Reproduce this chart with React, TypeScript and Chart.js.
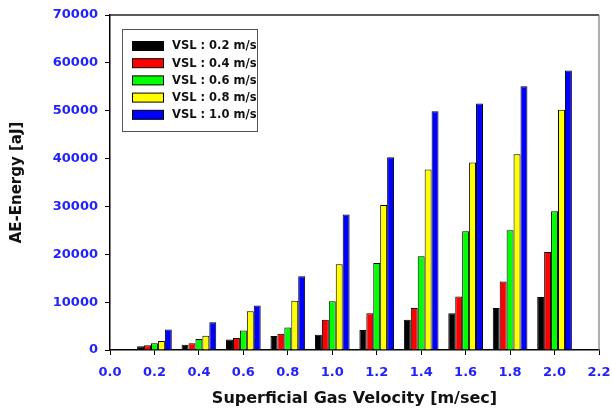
import React, { useEffect, useRef } from "react";
import { Chart, registerables } from "chart.js";

Chart.register(...registerables);

const velocities = [0.2, 0.4, 0.6, 0.8, 1.0, 1.2, 1.4, 1.6, 1.8, 2.0];
const seriesLabels = ["VSL : 0.2 m/s", "VSL : 0.4 m/s", "VSL : 0.6 m/s", "VSL : 0.8 m/s", "VSL : 1.0 m/s"];
const seriesColors = ["#000000", "#ff0000", "#00ff00", "#ffff00", "#0000ff"];
const vsl02 = [800, 1100, 2200, 2900, 3200, 4200, 6300, 7700, 8800, 11100];
const vsl04 = [1000, 1400, 2500, 3400, 6300, 7700, 8800, 11200, 14300, 20500];
const vsl06 = [1400, 2300, 4100, 4700, 10200, 18200, 19600, 24800, 25000, 29000];
const vsl08 = [1900, 3000, 8100, 10300, 17900, 30300, 37700, 39200, 40900, 50200];
const vsl10 = [4300, 5800, 9300, 15400, 28300, 40300, 49900, 51500, 55100, 58400];
const seriesValues = [vsl02, vsl04, vsl06, vsl08, vsl10];

const xTitle = "Superficial Gas Velocity [m/sec]";
const yTitle = "AE-Energy [aJ]";
const tickBlue = "#2222ff";
const FONT = "'DejaVu Sans', sans-serif";

const framePlugin = {
  id: "frameAndLegend",
  afterDraw(chart: any) {
    const { ctx, chartArea } = chart;
    const { left, right, top, bottom } = chartArea;
    ctx.save();
    ctx.strokeStyle = "#222222";
    ctx.lineWidth = 1.5;
    ctx.beginPath();
    ctx.moveTo(left, top);
    ctx.lineTo(right, top);
    ctx.stroke();
    ctx.strokeStyle = "#777777";
    ctx.lineWidth = 1.2;
    ctx.beginPath();
    ctx.moveTo(right, top);
    ctx.lineTo(right, bottom);
    ctx.stroke();

    const bx = left + 12;
    const by = top + 14;
    const bw = 135;
    const bh = 102;
    ctx.strokeStyle = "#555555";
    ctx.lineWidth = 1;
    ctx.strokeRect(bx + 0.5, by + 0.5, bw, bh);
    ctx.font = "bold 11.5px " + FONT;
    ctx.textBaseline = "middle";
    ctx.textAlign = "left";
    chart.data.datasets.forEach((ds: any, i: number) => {
      const cy = by + 17 + i * 17.2;
      ctx.fillStyle = ds.backgroundColor;
      ctx.fillRect(bx + 10, cy - 4.5, 32, 9);
      ctx.strokeStyle = "#000000";
      ctx.lineWidth = 1;
      ctx.strokeRect(bx + 10.5, cy - 4.5, 31, 9);
      ctx.fillStyle = "#111111";
      ctx.fillText(ds.label, bx + 50, cy + 0.5);
    });
    ctx.restore();
  },
};

export default function App() {
  const ref = useRef<HTMLCanvasElement | null>(null);
  useEffect(() => {
    if (!ref.current) return;
    const datasets = seriesLabels.map((label, i) => ({
      label,
      data: velocities.map((v, j) => ({ x: v, y: seriesValues[i][j] })),
      backgroundColor: seriesColors[i],
      borderColor: "#000000",
      borderWidth: 1,
      barPercentage: 1.0,
      categoryPercentage: 0.78,
    }));
    const chart = new Chart(ref.current, {
      type: "bar",
      data: { datasets },
      plugins: [framePlugin],
      options: {
        animation: false,
        responsive: false,
        devicePixelRatio: 1,
        layout: { padding: { top: 15, right: 13, left: 0, bottom: 0 } },
        plugins: { legend: { display: false }, tooltip: { enabled: false } },
        scales: {
          x: {
            type: "linear",
            min: 0,
            max: 2.2,
            offset: false,
            afterFit: (s: any) => {
              s.height = 64;
              s.paddingLeft = 0;
              s.paddingRight = 0;
            },
            grid: { offset: false, drawOnChartArea: false, drawTicks: true, tickLength: 5, color: "#000000", tickWidth: 1 },
            border: { display: true, color: "#000000", width: 1.5 },
            ticks: {
              stepSize: 0.2,
              autoSkip: false,
              maxRotation: 0,
              padding: 10,
              color: tickBlue,
              font: { family: FONT, size: 13, weight: "bold" },
              callback: (v: any) => Number(v).toFixed(1),
            },
            title: {
              display: true,
              text: xTitle,
              color: "#111111",
              font: { family: FONT, size: 16, weight: "bold" },
              padding: { top: 0, bottom: 6 },
            },
          },
          y: {
            min: 0,
            max: 70000,
            afterFit: (s: any) => {
              s.width = 110;
              s.paddingTop = 0;
              s.paddingBottom = 0;
            },
            grid: { drawOnChartArea: false, drawTicks: true, tickLength: 5, color: "#000000", tickWidth: 1 },
            border: { display: true, color: "#000000", width: 1.5 },
            ticks: {
              stepSize: 10000,
              padding: 7,
              color: tickBlue,
              font: { family: FONT, size: 13, weight: "bold" },
              callback: (v: any) => String(v),
            },
            title: {
              display: true,
              text: yTitle,
              color: "#111111",
              font: { family: FONT, size: 15, weight: "bold" },
              padding: { top: 8, bottom: 0 },
            },
          },
        },
      } as any,
    });
    return () => chart.destroy();
  }, []);
  return (
    <div style={{ position: "fixed", left: 0, top: 0, width: 612, height: 414, background: "#ffffff" }}>
      <canvas ref={ref} width={612} height={414} />
    </div>
  );
}
